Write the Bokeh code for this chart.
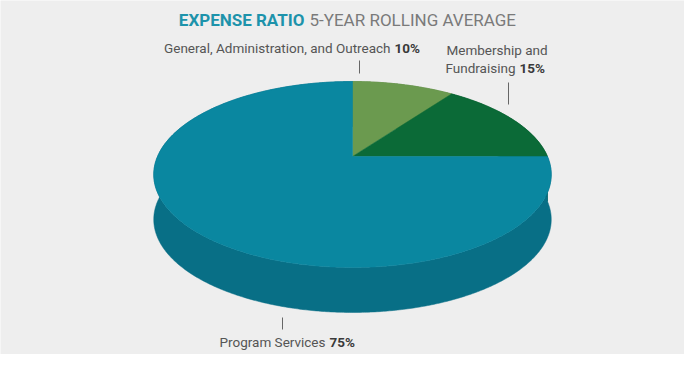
import numpy as np
from bokeh.plotting import figure
from bokeh.models import Range1d
from bokeh.core.properties import value
from bokeh.embed import file_html
from bokeh.resources import INLINE

# ---- data ----
categories = ["General, Administration, and Outreach", "Membership and Fundraising", "Program Services"]
shares = [10, 15, 75]
label_text = ["General, Administration, and Outreach", "Fundraising", "Program Services"]
pct_text = ["10%", "15%", "75%"]
title_bold = "EXPENSE RATIO"
title_rest = "5-YEAR ROLLING AVERAGE"

# ---- styles ----
top_colors = ["#6b9a4f", "#0b6a37", "#0a87a0"]
side_colors = ["#557f3f", "#08592d", "#086f86"]
BG = "#eeeeee"
FONT = "Roboto"

# ---- pie geometry (screen pixels, y down) ----
CX, CY = 352.0, 156.0
A, B, K = 195.0, 89.5, 0.1935
H = 45.0


def project(theta_deg):
    t = np.radians(theta_deg)
    u, v = np.cos(t), np.sin(t)
    w = 1.0 + K * v
    return CX + A * u / w, CY - B * v / w


p = figure(width=684, height=354, output_backend="svg", toolbar_location=None,
           x_range=Range1d(0, 684), y_range=Range1d(354, 0),
           min_border=0, background_fill_color=BG, border_fill_color=BG,
           outline_line_color=None)
p.axis.visible = False
p.grid.visible = False

cum = np.concatenate([[0], np.cumsum(shares)])
starts = 90 - 3.6 * cum[:-1]
ends = 90 - 3.6 * cum[1:]

side_xs, side_ys, top_xs, top_ys = [], [], [], []
for s, e in zip(starts, ends):
    th = np.linspace(s, e, max(8, int(abs(s - e) * 2)))
    x, y = project(th)
    side_xs.append(list(np.concatenate([x, x[::-1]])))
    side_ys.append(list(np.concatenate([y, (y + H)[::-1]])))
    top_xs.append([CX] + list(x))
    top_ys.append([CY] + list(y))

p.patches(side_xs, side_ys, fill_color=side_colors, line_color=side_colors, line_width=0.5)
p.patches(top_xs, top_ys, fill_color=top_colors, line_color=top_colors, line_width=0.5)

# ---- title ----
p.text(x=[304], y=[19], text=[title_bold], text_align="right", text_baseline="middle",
       text_font=value(FONT), text_font_size="17px", text_font_style="bold", text_color="#1d93ab")
p.text(x=[309], y=[19], text=[title_rest], text_align="left", text_baseline="middle",
       text_font=value(FONT), text_font_size="17px", text_color="#7a7a7a")

# ---- labels ----
lab_x = [390, 515, 325]
lab_y = [47, 67, 341]
p.text(x=lab_x, y=lab_y, text=label_text, text_align="right", text_baseline="middle",
       text_font=value(FONT), text_font_size="13.5px", text_color="#555555")
p.text(x=[446], y=[49], text=["Membership and"], text_align="left", text_baseline="middle",
       text_font=value(FONT), text_font_size="13.5px", text_color="#555555")
p.text(x=[x + 4 for x in lab_x], y=lab_y, text=pct_text, text_align="left", text_baseline="middle",
       text_font=value(FONT), text_font_size="13.5px", text_font_style="bold", text_color="#3a3a3a")

# leader ticks
p.segment(x0=[359, 508, 282], y0=[60, 82, 317], x1=[359, 508, 282], y1=[73, 104, 329],
          line_color="#666666", line_width=1)

open("out.html", "w").write(file_html(p, INLINE))
